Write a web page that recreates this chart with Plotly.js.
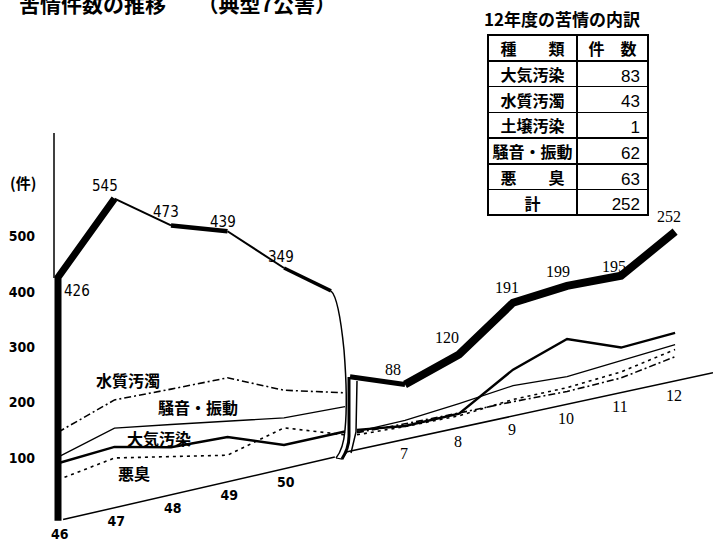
<!DOCTYPE html>
<html>
<head>
<meta charset="utf-8">
<script src="https://cdn.plot.ly/plotly-3.0.1.min.js"></script>
<style>
  html, body { margin: 0; padding: 0; background: #fff; }
  #chart { width: 713px; height: 542px; }
</style>
</head>
<body>
<div id="chart"></div>
<script>
// 年度（昭和46〜50年度 / 平成7〜12年度）
const yearsEarly = ['46', '47', '48', '49', '50'];
const yearsLate = ['7', '8', '9', '10', '11', '12'];

// 苦情件数の合計
const totalEarly = [426, 545, 473, 439, 349];
const totalLate = [88, 120, 191, 199, 195, 252];

// 種類別の件数（昭和46〜50年度）
const waterEarly = [146, 181, 177, 174, 128];
const noiseEarly = [101, 130, 113, 95, 78];
const airEarly = [90, 96, 72, 67, 29];
const odorEarly = [60, 76, 55, 34, 60];

// 種類別の件数（平成7〜12年度）
const waterLate = [17, 14, 12, 8, 10, 26];
const noiseLate = [23, 31, 41, 35, 41, 48];
const airLate = [13, 13, 70, 103, 65, 69];
const odorLate = [12, 9, 16, 15, 21, 39];

// 破断線の位置での値（合計, 水質, 騒音, 大気, 悪臭）
const cutEndValues = [288, 98, 73, 28, 22];
const cutStartValues = [125, 21, 23, 26, 17];

// 12年度の苦情の内訳
const tableKinds = ['大気汚染', '水質汚濁', '土壌汚染', '騒音・振動', '悪　　臭', '計'];
const tableCounts = [83, 43, 1, 62, 63, 252];

// ---- 座標系（斜めに傾けた立体風の軸） ----
const FW = 713, FH = 542, ML = 36;
const W = FW - ML;
const PX0 = 58, SLOT = 56.5;      // 46年度の横位置と年度間隔
const Z = 513, S = 0.553;         // 0件の縦位置と1件あたりの高さ
const SHEAR = 23.5;               // 1年度進むごとの持ち上がり（件換算）

const earlySlots = yearsEarly.map((_, i) => i);
const lateSlots = yearsLate.map((_, i) => 6.142 + i * 0.956);
const cutEndSlot = { total: 4.832, part: 5.08 };
const cutStartSlot = { total: 5.168, part: 5.292 };

const lift = (slot, v) => v + SHEAR * slot;
const P = (px, py) => `${((px - PX0) / SLOT).toFixed(4)},${((Z - py) / S).toFixed(3)}`;
const paperX = px => (px - ML) / W;
const paperY = py => 1 - py / FH;

const NARROW = '"Liberation Sans Narrow", "DejaVu Sans Condensed", sans-serif';
const SERIF = '"Liberation Serif", "DejaVu Serif", serif';
const JP = '"Noto Sans CJK JP", sans-serif';

const traces = [];

function line(xs, vs, style) {
  traces.push({
    type: 'scatter', mode: 'lines', hoverinfo: 'skip', showlegend: false,
    x: xs, y: xs.map((s, i) => lift(s, vs[i])),
    line: Object.assign({ color: '#000' }, style)
  });
}

// 底面の線
const baseLeft = [-14, -14], baseLeftSlots = [0.09, 4.9];
const baseRight = [-9.5, -19], baseRightSlots = [5.1, (FW - PX0) / SLOT];
line(baseLeftSlots, baseLeft, { width: 1.5 });
line(baseRightSlots, baseRight, { width: 1.5 });

// 種類別の折れ線
const series = [
  { early: waterEarly, late: waterLate, k: 1, style: { width: 1.6, dash: '7px,3px,2px,3px' } },
  { early: noiseEarly, late: noiseLate, k: 2, style: { width: 1.3 } },
  { early: airEarly, late: airLate, k: 3, style: { width: 2.4 } },
  { early: odorEarly, late: odorLate, k: 4, style: { width: 1.6, dash: '3px,4px' } }
];
series.forEach(sr => {
  line(earlySlots.concat([cutEndSlot.part]), sr.early.concat([cutEndValues[sr.k]]), sr.style);
  line([cutStartSlot.part].concat(lateSlots), [cutStartValues[sr.k]].concat(sr.late), sr.style);
});

// 合計の折れ線（区間ごとに太さを変える）
line([0, 0, 1], [baseLeft[0], totalEarly[0], totalEarly[1]], { width: 7 });
const earlyWidths = [2, 4.5, 2];
for (let i = 1; i < totalEarly.length - 1; i++) {
  line([earlySlots[i], earlySlots[i + 1]], [totalEarly[i], totalEarly[i + 1]], { width: earlyWidths[i - 1] });
}
line([earlySlots[4], cutEndSlot.total], [totalEarly[4], cutEndValues[0]], { width: 3.5 });
line([cutStartSlot.total, lateSlots[0]], [cutStartValues[0], totalLate[0]], { width: 5 });
line(lateSlots, totalLate, { width: 8 });

// 年度ラベル（斜めの底面に沿って配置）
function baseAt(slot) {
  if (slot < 5) return baseLeft[0];
  const t = (slot - baseRightSlots[0]) / (baseRightSlots[1] - baseRightSlots[0]);
  return baseRight[0] + t * (baseRight[1] - baseRight[0]);
}
traces.push({
  type: 'scatter', mode: 'text', hoverinfo: 'skip', showlegend: false,
  x: earlySlots.map(s => s + 0.03),
  y: earlySlots.map(s => lift(s, baseAt(s) - 26)),
  text: yearsEarly,
  textfont: { family: NARROW, size: 14, color: '#000', weight: 700 }
});
traces.push({
  type: 'scatter', mode: 'text', hoverinfo: 'skip', showlegend: false,
  x: lateSlots.map(s => s - 0.02),
  y: lateSlots.map(s => lift(s, baseAt(s) - 28)),
  text: yearsLate,
  textfont: { family: SERIF, size: 16, color: '#000' }
});

// 内訳の表
const tblTop = 35, headH = 26, rowH = 25.7;
traces.push({
  type: 'table',
  domain: {
    x: [paperX(488), paperX(648)],
    y: [paperY(tblTop + headH + rowH * tableKinds.length + 2), paperY(tblTop)]
  },
  columnwidth: [89, 71],
  header: {
    values: ['種　　類', '件　数'],
    align: ['center', 'center'], height: headH,
    line: { color: '#000', width: 2 }, fill: { color: '#fff' },
    font: { family: JP, size: 16, color: '#000', weight: 700 }
  },
  cells: {
    values: [tableKinds, tableCounts.map(String)],
    align: ['center', 'right'], height: rowH,
    line: { color: '#000', width: 1.5 }, fill: { color: '#fff' },
    font: { family: [JP, '"Liberation Sans", sans-serif'], size: [16, 17], color: '#000', weight: [700, 400] }
  }
});

// 合計値のラベル
const earlyLabelShift = [[19, -14], [-10, 13], [-5, 13], [-5, 9], [-3, 11]];
const lateLabelShift = [[-12, 15], [-12, 17], [-6, 15], [-9, 14], [-7, 9], [-6, 15]];
const annotations = [];
totalEarly.forEach((v, i) => annotations.push({
  x: earlySlots[i], y: lift(earlySlots[i], v), xref: 'x', yref: 'y', showarrow: false,
  xanchor: 'center', yanchor: 'middle',
  text: String(v), xshift: earlyLabelShift[i][0], yshift: earlyLabelShift[i][1],
  font: { family: NARROW, size: 15, color: '#000' }
}));
totalLate.forEach((v, i) => annotations.push({
  x: lateSlots[i], y: lift(lateSlots[i], v), xref: 'x', yref: 'y', showarrow: false,
  xanchor: 'center', yanchor: 'middle',
  text: String(v), xshift: lateLabelShift[i][0], yshift: lateLabelShift[i][1],
  font: { family: SERIF, size: 16, color: '#000' }
}));

// 種類名・見出し
function label(t, px, py, font) {
  annotations.push({
    xref: 'paper', yref: 'paper', x: paperX(px), y: paperY(py),
    xanchor: 'center', yanchor: 'middle', showarrow: false,
    text: t, font: font
  });
}
const labelFont = { family: JP, size: 16, color: '#000', weight: 700 };
label('水質汚濁', 128, 380, labelFont);
label('騒音・振動', 198, 407, labelFont);
label('大気汚染', 159, 438, labelFont);
label('悪臭', 134, 473, labelFont);
label('(件)', 23, 182, { family: JP, size: 15, color: '#000', weight: 700 });
label('12年度の苦情の内訳', 562, 19, { family: JP, size: 17, color: '#000', weight: 700 });
annotations.push({
  xref: 'paper', yref: 'paper', x: paperX(17), y: 1, xanchor: 'left', yanchor: 'middle',
  yshift: -3, showarrow: false,
  text: '苦情件数の推移　　（典型7公害）', font: { family: JP, size: 21, color: '#000', weight: 700 }
});

// 縦軸の細線と破断部分
const shapes = [
  { type: 'path', xref: 'x', yref: 'y', line: { color: '#000', width: 1.5 },
    path: `M${P(54, 133)} L${P(54, 278)}` },
  { type: 'path', xref: 'x', yref: 'y', line: { color: '#000', width: 1.5 },
    path: `M${P(331, 291)} C${P(337, 296)} ${P(341, 320)} ${P(344, 350)} C${P(346, 375)} ${P(347, 410)} ${P(345, 430)} C${P(344, 442)} ${P(341, 452)} ${P(336, 458)}` },
  { type: 'path', xref: 'x', yref: 'y', line: { color: '#000', width: 3 },
    path: `M${P(349, 377)} L${P(349, 436)} C${P(349, 446)} ${P(346, 452)} ${P(342, 459)}` },
  { type: 'path', xref: 'x', yref: 'y', line: { color: '#000', width: 1.5 },
    path: `M${P(357, 381)} L${P(356, 432)} L${P(351, 453)}` },
  { type: 'path', xref: 'x', yref: 'y', line: { color: '#000', width: 1.2 },
    path: `M${P(336, 458)} L${P(342, 459)} L${P(347, 452)}` }
];

const layout = {
  width: FW, height: FH,
  margin: { l: ML, r: 0, t: 0, b: 0, pad: 0 },
  paper_bgcolor: '#fff', plot_bgcolor: '#fff',
  showlegend: false,
  xaxis: { range: [(ML - PX0) / SLOT, (FW - PX0) / SLOT], visible: false, fixedrange: true },
  yaxis: {
    range: [(Z - FH) / S, Z / S], tickvals: [100, 200, 300, 400, 500],
    showgrid: false, zeroline: false, showline: false, ticks: '',
    tickfont: { family: NARROW, size: 14, color: '#000', weight: 700 },
    fixedrange: true
  },
  annotations: annotations,
  shapes: shapes
};

Plotly.newPlot('chart', traces, layout, { staticPlot: true, displayModeBar: false });
</script>
</body>
</html>
